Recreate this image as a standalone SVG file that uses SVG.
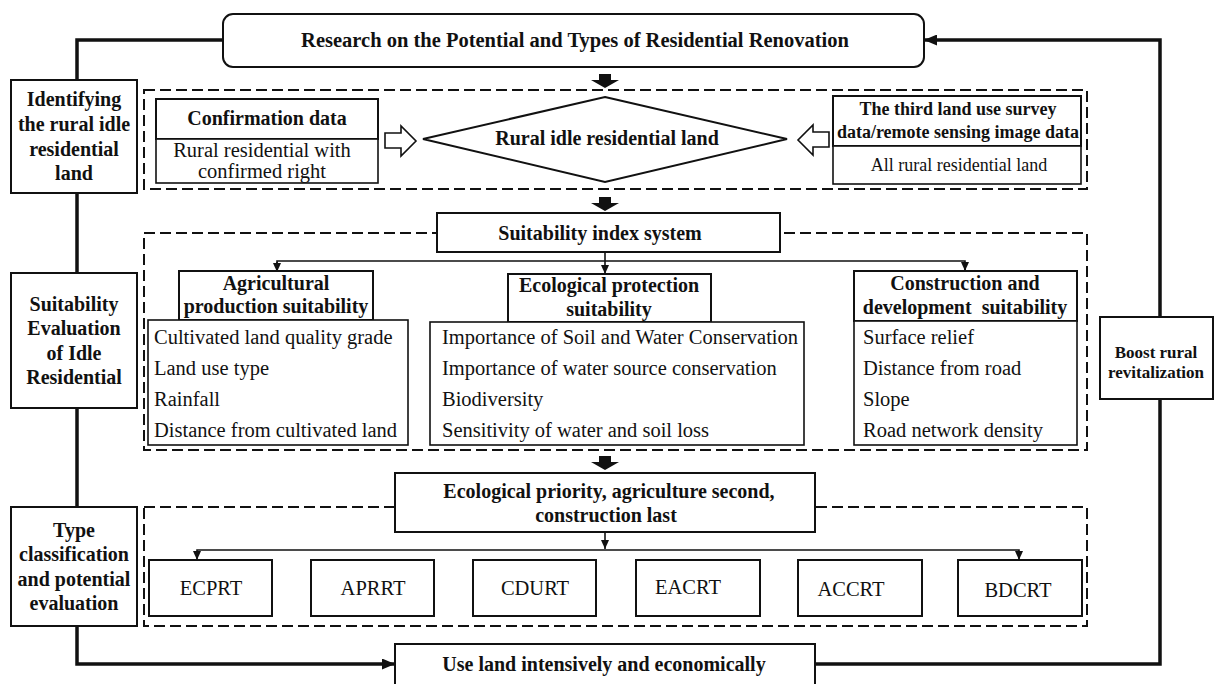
<svg xmlns="http://www.w3.org/2000/svg" width="1215" height="684" viewBox="0 0 1215 684">
<defs>
<style>
text{font-family:"Liberation Serif","Times New Roman",serif;fill:#111}
.b{font-weight:bold;font-size:20px;text-anchor:middle}
.b18{font-weight:bold;font-size:18px;text-anchor:middle}
.b17{font-weight:bold;font-size:17px;text-anchor:middle}
.r{font-size:20.5px}
.rc{font-size:20.5px;text-anchor:middle}
.r18{font-size:18px;text-anchor:middle}
.box{fill:#fff;stroke:#111;stroke-width:2}
.thin{fill:#fff;stroke:#111;stroke-width:1.6}
.dash{fill:none;stroke:#111;stroke-width:2;stroke-dasharray:11 5}
.thick{fill:none;stroke:#111;stroke-width:3.5}
.br{fill:none;stroke:#111;stroke-width:1.6}
.big{fill:#111}
.hollow{fill:#fff;stroke:#111;stroke-width:1.6}
</style>
<marker id="ah" markerUnits="userSpaceOnUse" markerWidth="13" markerHeight="11" refX="13" refY="5.5" orient="auto"><path d="M0,0 L13,5.5 L0,11 z" fill="#111"/></marker>
<marker id="as" markerUnits="userSpaceOnUse" markerWidth="9" markerHeight="8" refX="9" refY="4" orient="auto"><path d="M0,0 L9,4 L0,8 z" fill="#111"/></marker>
</defs>

<g id="containers">
<rect class="dash" x="144" y="90" width="943" height="99"/>
<rect class="dash" x="144" y="233" width="943" height="217"/>
<rect class="dash" x="144" y="507" width="943" height="119"/>
</g>

<g id="connectors">
<polyline class="thick" points="223,40 77,40 77,80"/>
<line class="thick" x1="77" y1="193" x2="77" y2="273"/>
<line class="thick" x1="77" y1="408" x2="77" y2="507"/>
<polyline class="thick" points="77,626 77,664 395,664" marker-end="url(#ah)"/>
<polyline class="thick" points="815,664 1160,664 1160,399"/>
<polyline class="thick" points="1160,317 1160,40 924,40" marker-end="url(#ah)"/>
<path class="big" d="M599,74 H611 V80 H619 L605,88 L591,80 H599 Z"/>
<path class="big" d="M599,197 H611 V203 H619 L605,211 L591,203 H599 Z"/>
<path class="big" d="M599,456 H611 V462 H619 L605,470 L591,462 H599 Z"/>
<path class="hollow" d="M385,133 H401 V126 L416,141 L401,156 V148 H385 Z"/>
<path class="hollow" d="M829,132 H813 V125 L798,140 L813,155 V147 H829 Z"/>
<line class="br" x1="605" y1="252" x2="605" y2="274" marker-end="url(#as)"/>
<polyline class="br" points="277,271 277,261 965,261 965,271"/>
<line class="br" x1="277" y1="262" x2="277" y2="272" marker-end="url(#as)"/>
<line class="br" x1="965" y1="262" x2="965" y2="271" marker-end="url(#as)"/>
<line class="br" x1="605" y1="532" x2="605" y2="549" marker-end="url(#as)"/>
<polyline class="br" points="197,558 197,550 1019,550 1019,558"/>
<line class="br" x1="197" y1="551" x2="197" y2="560" marker-end="url(#as)"/>
<line class="br" x1="1019" y1="551" x2="1019" y2="560" marker-end="url(#as)"/>
</g>

<g id="research">
<rect class="box" x="223" y="14" width="701" height="53" rx="10"/>
<text class="b" x="575" y="47" style="font-size:20.5px">Research on the Potential and Types of Residential Renovation</text>
</g>

<g id="identifying">
<rect class="box" x="11" y="80" width="126" height="113"/>
<text class="b" x="74" y="106">Identifying</text>
<text class="b" x="74" y="131">the rural idle</text>
<text class="b" x="74" y="156">residential</text>
<text class="b" x="74" y="180">land</text>
</g>

<g id="confirmation">
<rect class="box" x="156" y="99" width="222" height="40"/>
<text class="b" x="267" y="125">Confirmation data</text>
<rect class="thin" x="156" y="139" width="222" height="44"/>
<text class="rc" x="262" y="157">Rural residential with</text>
<text class="rc" x="262" y="178">confirmed right</text>
</g>

<g id="idle-land">
<polygon class="box" points="605,97 787,139 605,182 423,139"/>
<text class="b" x="607" y="145">Rural idle residential land</text>
</g>

<g id="survey">
<rect class="box" x="833" y="96" width="248" height="50"/>
<text class="b18" x="958" y="115">The third land use survey</text>
<text class="b18" x="958" y="138">data/remote sensing image data</text>
<rect class="thin" x="833" y="146" width="248" height="38"/>
<text class="r18" x="959" y="171">All rural residential land</text>
</g>

<g id="index-system">
<rect class="box" x="437" y="213" width="343" height="39"/>
<text class="b" x="600" y="240">Suitability index system</text>
</g>

<g id="suitability-eval">
<rect class="box" x="11" y="273" width="126" height="135"/>
<text class="b" x="74" y="311">Suitability</text>
<text class="b" x="74" y="335">Evaluation</text>
<text class="b" x="74" y="360">of Idle</text>
<text class="b" x="74" y="384">Residential</text>
</g>

<g id="agricultural">
<rect class="box" x="179" y="271" width="194" height="49"/>
<text class="b" x="276" y="290">Agricultural</text>
<text class="b" x="276" y="313">production suitability</text>
<rect class="thin" x="148" y="320" width="260" height="125"/>
<text class="r" x="154" y="344">Cultivated land quality grade</text>
<text class="r" x="154" y="375">Land use type</text>
<text class="r" x="154" y="406">Rainfall</text>
<text class="r" x="154" y="437">Distance from cultivated land</text>
</g>

<g id="ecological">
<rect class="box" x="508" y="274" width="203" height="48"/>
<text class="b" x="609" y="292">Ecological protection</text>
<text class="b" x="609" y="316">suitability</text>
<rect class="thin" x="430" y="322" width="374" height="123"/>
<text class="r" x="442" y="344">Importance of Soil and Water Conservation</text>
<text class="r" x="442" y="375">Importance of water source conservation</text>
<text class="r" x="442" y="406">Biodiversity</text>
<text class="r" x="442" y="437">Sensitivity of water and soil loss</text>
</g>

<g id="construction">
<rect class="box" x="854" y="271" width="223" height="50"/>
<text class="b" x="965" y="290">Construction and</text>
<text class="b" x="965" y="314">development&#160; suitability</text>
<rect class="thin" x="854" y="321" width="223" height="124"/>
<text class="r" x="863" y="344">Surface relief</text>
<text class="r" x="863" y="375">Distance from road</text>
<text class="r" x="863" y="406">Slope</text>
<text class="r" x="863" y="437">Road network density</text>
</g>

<g id="boost">
<rect class="box" x="1100" y="317" width="113" height="82"/>
<text class="b17" x="1156" y="358">Boost rural</text>
<text class="b17" x="1156" y="378">revitalization</text>
</g>

<g id="priority">
<rect class="box" x="395" y="473" width="420" height="59"/>
<text class="b" x="609" y="498">Ecological priority, agriculture second,</text>
<text class="b" x="606" y="522">construction last</text>
</g>

<g id="type-classification">
<rect class="box" x="11" y="507" width="126" height="119"/>
<text class="b" x="74" y="537">Type</text>
<text class="b" x="74" y="561">classification</text>
<text class="b" x="74" y="586">and potential</text>
<text class="b" x="74" y="610">evaluation</text>
</g>

<g id="ECPRT"><rect class="box" x="149" y="560" width="123" height="56"/><text class="rc" x="211" y="595">ECPRT</text></g>
<g id="APRRT"><rect class="box" x="311" y="560" width="123" height="56"/><text class="rc" x="373" y="595">APRRT</text></g>
<g id="CDURT"><rect class="box" x="473" y="560" width="123" height="56"/><text class="rc" x="535" y="595">CDURT</text></g>
<g id="EACRT"><rect class="box" x="636" y="560" width="124" height="56"/><text class="rc" x="688" y="594">EACRT</text></g>
<g id="ACCRT"><rect class="box" x="798" y="560" width="124" height="56"/><text class="rc" x="851" y="596">ACCRT</text></g>
<g id="BDCRT"><rect class="box" x="958" y="560" width="124" height="56"/><text class="rc" x="1018" y="597">BDCRT</text></g>

<g id="use-land">
<rect class="box" x="395" y="644" width="420" height="50"/>
<text class="b" x="604" y="671">Use land intensively and economically</text>
</g>
</svg>
